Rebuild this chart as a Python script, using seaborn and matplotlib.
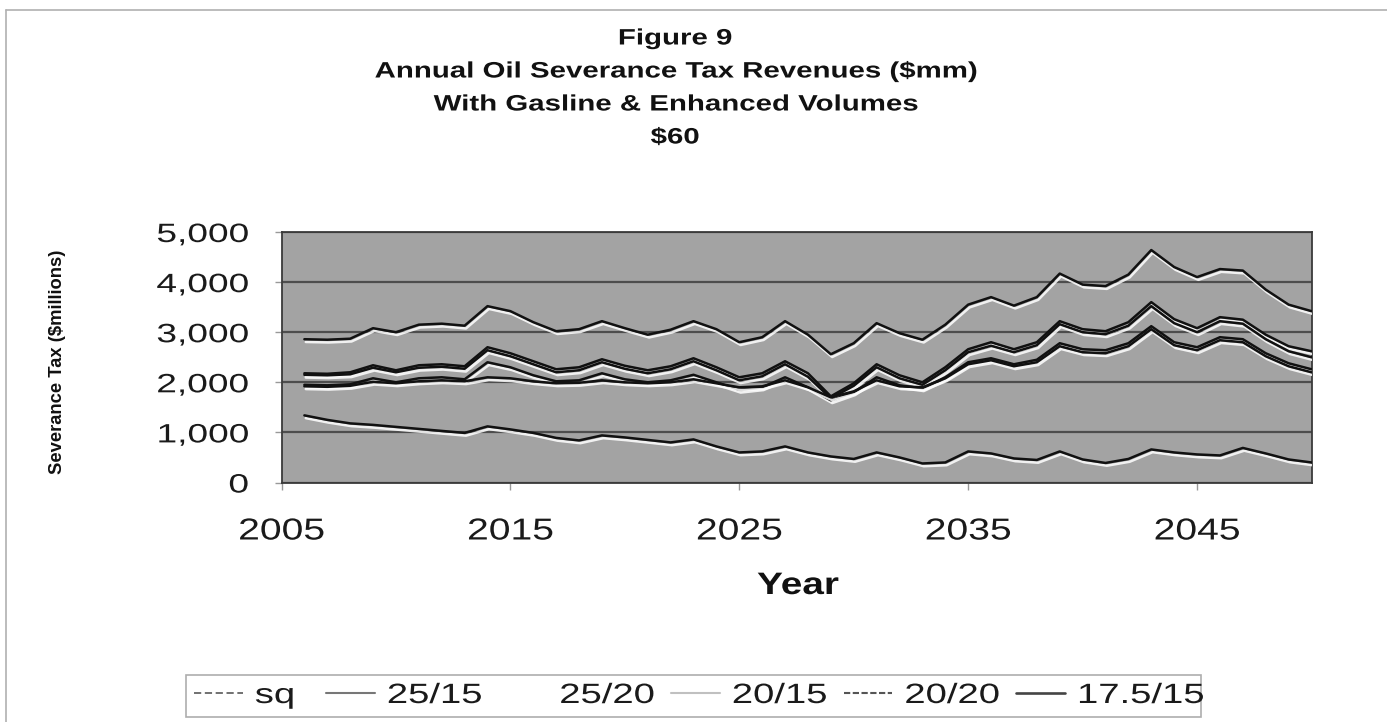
import matplotlib
matplotlib.use("Agg")
import matplotlib.pyplot as plt
import pandas as pd
import seaborn as sns
from matplotlib.lines import Line2D
from matplotlib import patheffects as pe
from matplotlib.patheffects import AbstractPathEffect
from matplotlib.transforms import Affine2D
from matplotlib.ticker import FuncFormatter

# Annual severance tax revenue by scenario, $ millions
years = list(range(2006, 2051))

sq = [1340, 1250, 1180, 1150, 1110, 1070, 1030, 990, 1120, 1060,
      990, 890, 840, 940, 900, 850, 800, 860, 720, 600,
      620, 720, 600, 520, 470, 600, 500, 380, 400, 620,
      580, 480, 450, 620, 460, 390, 470, 660, 600, 560,
      540, 690, 580, 460, 400]

r25_15 = [2860, 2850, 2870, 3080, 3000, 3150, 3170, 3130, 3520, 3420,
          3200, 3020, 3060, 3220, 3080, 2950, 3050, 3220, 3060, 2800,
          2900, 3220, 2950, 2560, 2780, 3180, 2980, 2850, 3150, 3550,
          3700, 3530, 3700, 4170, 3950, 3920, 4150, 4640, 4300, 4100,
          4260, 4230, 3850, 3550, 3420]

r25_20 = [2180, 2170, 2200, 2340, 2240, 2340, 2360, 2320, 2700, 2580,
          2420, 2260, 2300, 2460, 2330, 2240, 2320, 2480, 2300, 2100,
          2180, 2420, 2180, 1720, 1980, 2360, 2140, 2000, 2300, 2660,
          2800, 2660, 2800, 3220, 3060, 3020, 3200, 3600, 3260, 3080,
          3300, 3250, 2950, 2720, 2620]

r20_15 = [2150, 2140, 2160, 2290, 2200, 2290, 2310, 2270, 2640, 2520,
          2360, 2200, 2240, 2400, 2270, 2180, 2260, 2420, 2240, 2040,
          2120, 2360, 2110, 1680, 1930, 2300, 2080, 1950, 2240, 2600,
          2730, 2600, 2740, 3160, 3000, 2960, 3130, 3520, 3180, 3000,
          3220, 3170, 2860, 2620, 2500]

r20_20 = [1950, 1940, 1960, 2080, 2000, 2080, 2100, 2060, 2400, 2300,
          2140, 2020, 2040, 2180, 2060, 2000, 2040, 2150, 2000, 1850,
          1900, 2100, 1900, 1640, 1800, 2100, 1940, 1880, 2100, 2400,
          2480, 2360, 2450, 2780, 2660, 2640, 2780, 3120, 2800, 2700,
          2900, 2860, 2580, 2380, 2260]

r175_15 = [1920, 1910, 1930, 2010, 1980, 2020, 2040, 2020, 2100, 2080,
           2020, 1980, 1990, 2040, 2000, 1980, 2000, 2060, 1980, 1900,
           1920, 2040, 1900, 1700, 1820, 2040, 1920, 1900, 2080, 2360,
           2440, 2320, 2400, 2720, 2600, 2580, 2720, 3060, 2740, 2640,
           2840, 2800, 2520, 2320, 2200]

scenarios = ["sq", "25/15", "25/20", "20/15", "20/20", "17.5/15"]
x_ticks = [2005, 2015, 2025, 2035, 2045]
y_ticks = [0, 1000, 2000, 3000, 4000, 5000]

title_lines = ["Figure 9",
               "Annual Oil Severance Tax Revenues ($mm)",
               "With Gasline & Enhanced Volumes",
               "$60"]


class StretchX(AbstractPathEffect):
    """Widen glyphs horizontally about the left, centre or right of the ink."""

    def __init__(self, sx, anchor="center"):
        super().__init__()
        self.sx = sx
        self.anchor = anchor

    def draw_path(self, renderer, gc, tpath, affine, rgbFace=None):
        ext = tpath.get_extents()
        if self.anchor == "center":
            cx = 0.5 * (ext.x0 + ext.x1)
        elif self.anchor == "right":
            cx = ext.x1
        else:
            cx = 0.0
        widen = Affine2D().translate(-cx, 0).scale(self.sx, 1).translate(cx, 0)
        renderer.draw_path(gc, tpath, widen + affine, rgbFace)


df = pd.DataFrame({"Year": years, "sq": sq, "25/15": r25_15, "25/20": r25_20,
                   "20/15": r20_15, "20/20": r20_20, "17.5/15": r175_15})
long_df = df.melt(id_vars="Year", var_name="Scenario", value_name="Revenue")

sns.set_theme(style="white")
plt.rcParams["font.family"] = ["Liberation Sans", "DejaVu Sans"]

W, H = 1387, 722
PX = 72 / 100  # points per pixel at 100 dpi
fig = plt.figure(figsize=(W / 100, H / 100), dpi=100)
fig.patch.set_facecolor("white")

ax = fig.add_axes([281.5 / W, 1 - 482.5 / H, (1311.5 - 281.5) / W, (482.5 - 232) / H])
ax.set_facecolor("#a3a3a3")

sns.lineplot(data=long_df, x="Year", y="Revenue", hue="Scenario",
             hue_order=scenarios, palette=["#111111"] * len(scenarios),
             linewidth=1.8, legend=False, ax=ax, zorder=3)
for ln in ax.lines:
    ln.set_path_effects([pe.SimpleLineShadow(offset=(1, -2), shadow_color="white", alpha=0.85),
                         pe.Normal()])

ax.set_xlim(2005, 2050)
ax.set_ylim(0, 5000)
ax.set_xticks(x_ticks)
ax.set_yticks(y_ticks)
ax.yaxis.set_major_formatter(FuncFormatter(lambda v, p: f"{int(v):,}"))
ax.grid(axis="y", color="#4d4d4d", linewidth=1.6, zorder=1)
ax.grid(axis="x", visible=False)
ax.set_axisbelow(True)
ax.set_xlabel("")
ax.set_ylabel("")
for s in ax.spines.values():
    s.set_visible(True)
    s.set_color("#3a3a3a")
    s.set_linewidth(1.3)

ax.tick_params(axis="both", bottom=True, left=True, direction="out",
               length=7 * PX, width=1, color="#999999", labelcolor="#1a1a1a")
ax.tick_params(axis="x", labelsize=30.3 * PX, pad=28 * PX)
ax.tick_params(axis="y", labelsize=26.5 * PX, pad=26 * PX)
for t in ax.xaxis.get_major_ticks():
    t.label1.set_path_effects([StretchX(1.29, "center")])
for t in ax.yaxis.get_major_ticks():
    t.label1.set_path_effects([StretchX(1.40, "right")])

# Title block
title_base = [44.5, 77.5, 110.5, 143.5]
for txt, ty in zip(title_lines, title_base):
    tt = fig.text(675 / W, 1 - ty / H, txt, ha="center", va="baseline",
                  fontsize=22.3 * PX, fontweight="bold", color="#111111")
    tt.set_path_effects([StretchX(1.32, "center")])

fig.text(57 / W, 1 - 362 / H, "Severance Tax ($millions)", rotation=90,
         ha="center", va="center", fontsize=18.4 * PX, fontweight="bold", color="#111111")
yr = fig.text(798 / W, 1 - 594 / H, "Year", ha="center", va="baseline",
              fontsize=31 * PX, fontweight="bold", color="#111111")
yr.set_path_effects([StretchX(1.25, "center")])

# Legend with the series line styles
handles = [
    Line2D([], [], color="#666666", lw=1.3, ls=(0, (4, 2))),
    Line2D([], [], color="#777777", lw=1.5),
    Line2D([], [], color="white", lw=1.5),
    Line2D([], [], color="#c0c0c0", lw=1.5),
    Line2D([], [], color="#555555", lw=1.5, ls=(0, (3, 1.2))),
    Line2D([], [], color="#444444", lw=1.9),
]
labels = scenarios[:-1] + [scenarios[-1] + "   "]
leg = fig.legend(handles, labels, loc="center", bbox_to_anchor=(693.5 / W, 1 - 696 / H),
                 ncol=6, frameon=True, fancybox=False, fontsize=27.9 * PX,
                 handlelength=1.75, handletextpad=0.43, columnspacing=1.5,
                 borderpad=0.3, edgecolor="#999999")
leg.get_frame().set_linewidth(1.2)
for t in leg.get_texts():
    t.set_color("#1a1a1a")
    t.set_path_effects([StretchX(1.37, "left")])

# Outer chart frame
fig.add_artist(Line2D([6 / W, 1], [1 - 10 / H, 1 - 10 / H], transform=fig.transFigure,
                      color="#b0b0b0", lw=1.2))
fig.add_artist(Line2D([6 / W, 6 / W], [0, 1 - 10 / H], transform=fig.transFigure,
                      color="#b0b0b0", lw=1.2))

fig.savefig("out.png", dpi=100, facecolor="white")
